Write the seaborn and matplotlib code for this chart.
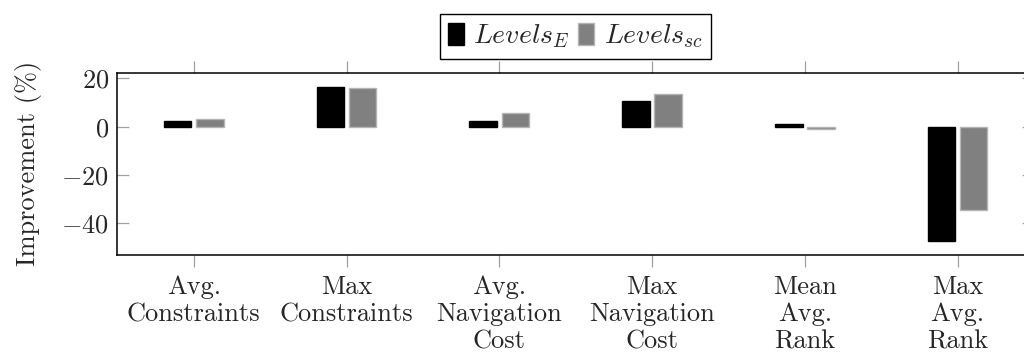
import matplotlib
matplotlib.use("Agg")
import matplotlib.pyplot as plt
import seaborn as sns
import pandas as pd

# Metric categories (multi-line tick labels)
categories = [
    "Avg.\nConstraints",
    "Max\nConstraints",
    "Avg.\nNavigation\nCost",
    "Max\nNavigation\nCost",
    "Mean\nAvg.\nRank",
    "Max\nAvg.\nRank",
]
series_names = ["E", "sc"]
series_labels = [r"$Levels_E$", r"$Levels_{sc}$"]
levels_e = [2.5, 16.6, 2.3, 10.6, 1.2, -47.2]
levels_sc = [3.3, 15.9, 5.8, 13.5, -1.1, -34.6]
y_ticks = [-40, -20, 0, 20]

df = pd.DataFrame({
    "metric": categories * 2,
    "series": [series_names[0]] * len(categories) + [series_names[1]] * len(categories),
    "value": levels_e + levels_sc,
})

sns.set_style("white")
plt.rcParams["font.family"] = ["cmr10", "DejaVu Serif"]
plt.rcParams["mathtext.fontset"] = "cm"
plt.rcParams["axes.formatter.use_mathtext"] = True
plt.rcParams["font.size"] = 19

fig = plt.figure(figsize=(10.24, 3.6), dpi=100)
ax = fig.add_axes([0.1146, 0.2917, 0.8952, 0.5064])

sns.barplot(
    data=df, x="metric", y="value", hue="series",
    order=categories, hue_order=series_names,
    palette=["black", "#808080"], width=0.42, gap=0.14,
    saturation=1, errorbar=None, legend=False, ax=ax,
)

edge_colors = ["black", "#b4b4b4"]
for container, ec in zip(ax.containers, edge_colors):
    for patch in container.patches:
        patch.set_edgecolor(ec)
        patch.set_linewidth(1.0)

ax.set_xlim(-0.5, 5.5)
ax.set_ylim(-53.1, 22.4)
ax.set_yticks(y_ticks)
ax.set_xlabel("")
ax.set_ylabel("Improvement (%)", fontsize=19, labelpad=14)

for s in ax.spines.values():
    s.set_color("black")
    s.set_linewidth(1.1)

ax.tick_params(axis="x", direction="out", length=8.6, width=0.9, color="#a0a0a0",
               top=True, bottom=True, labelsize=19, pad=6)
ax.tick_params(axis="y", direction="in", length=8.4, width=0.9, color="#a0a0a0",
               left=True, right=True, labelsize=19, pad=6)
for lbl in ax.get_xticklabels():
    lbl.set_linespacing(1.2)
    lbl.set_horizontalalignment("center")

handles = [c.patches[0] for c in ax.containers]
leg = ax.legend(
    handles, series_labels, loc="center", bbox_to_anchor=(0.4995, 1.198),
    ncol=2, frameon=True, fancybox=False, framealpha=1, edgecolor="black",
    fontsize=20, handlelength=0.57, handleheight=0.8, handletextpad=0.35,
    columnspacing=0.3, borderpad=0.3, borderaxespad=0,
)
leg.get_frame().set_linewidth(1.0)

fig.savefig("out.png", dpi=100)
